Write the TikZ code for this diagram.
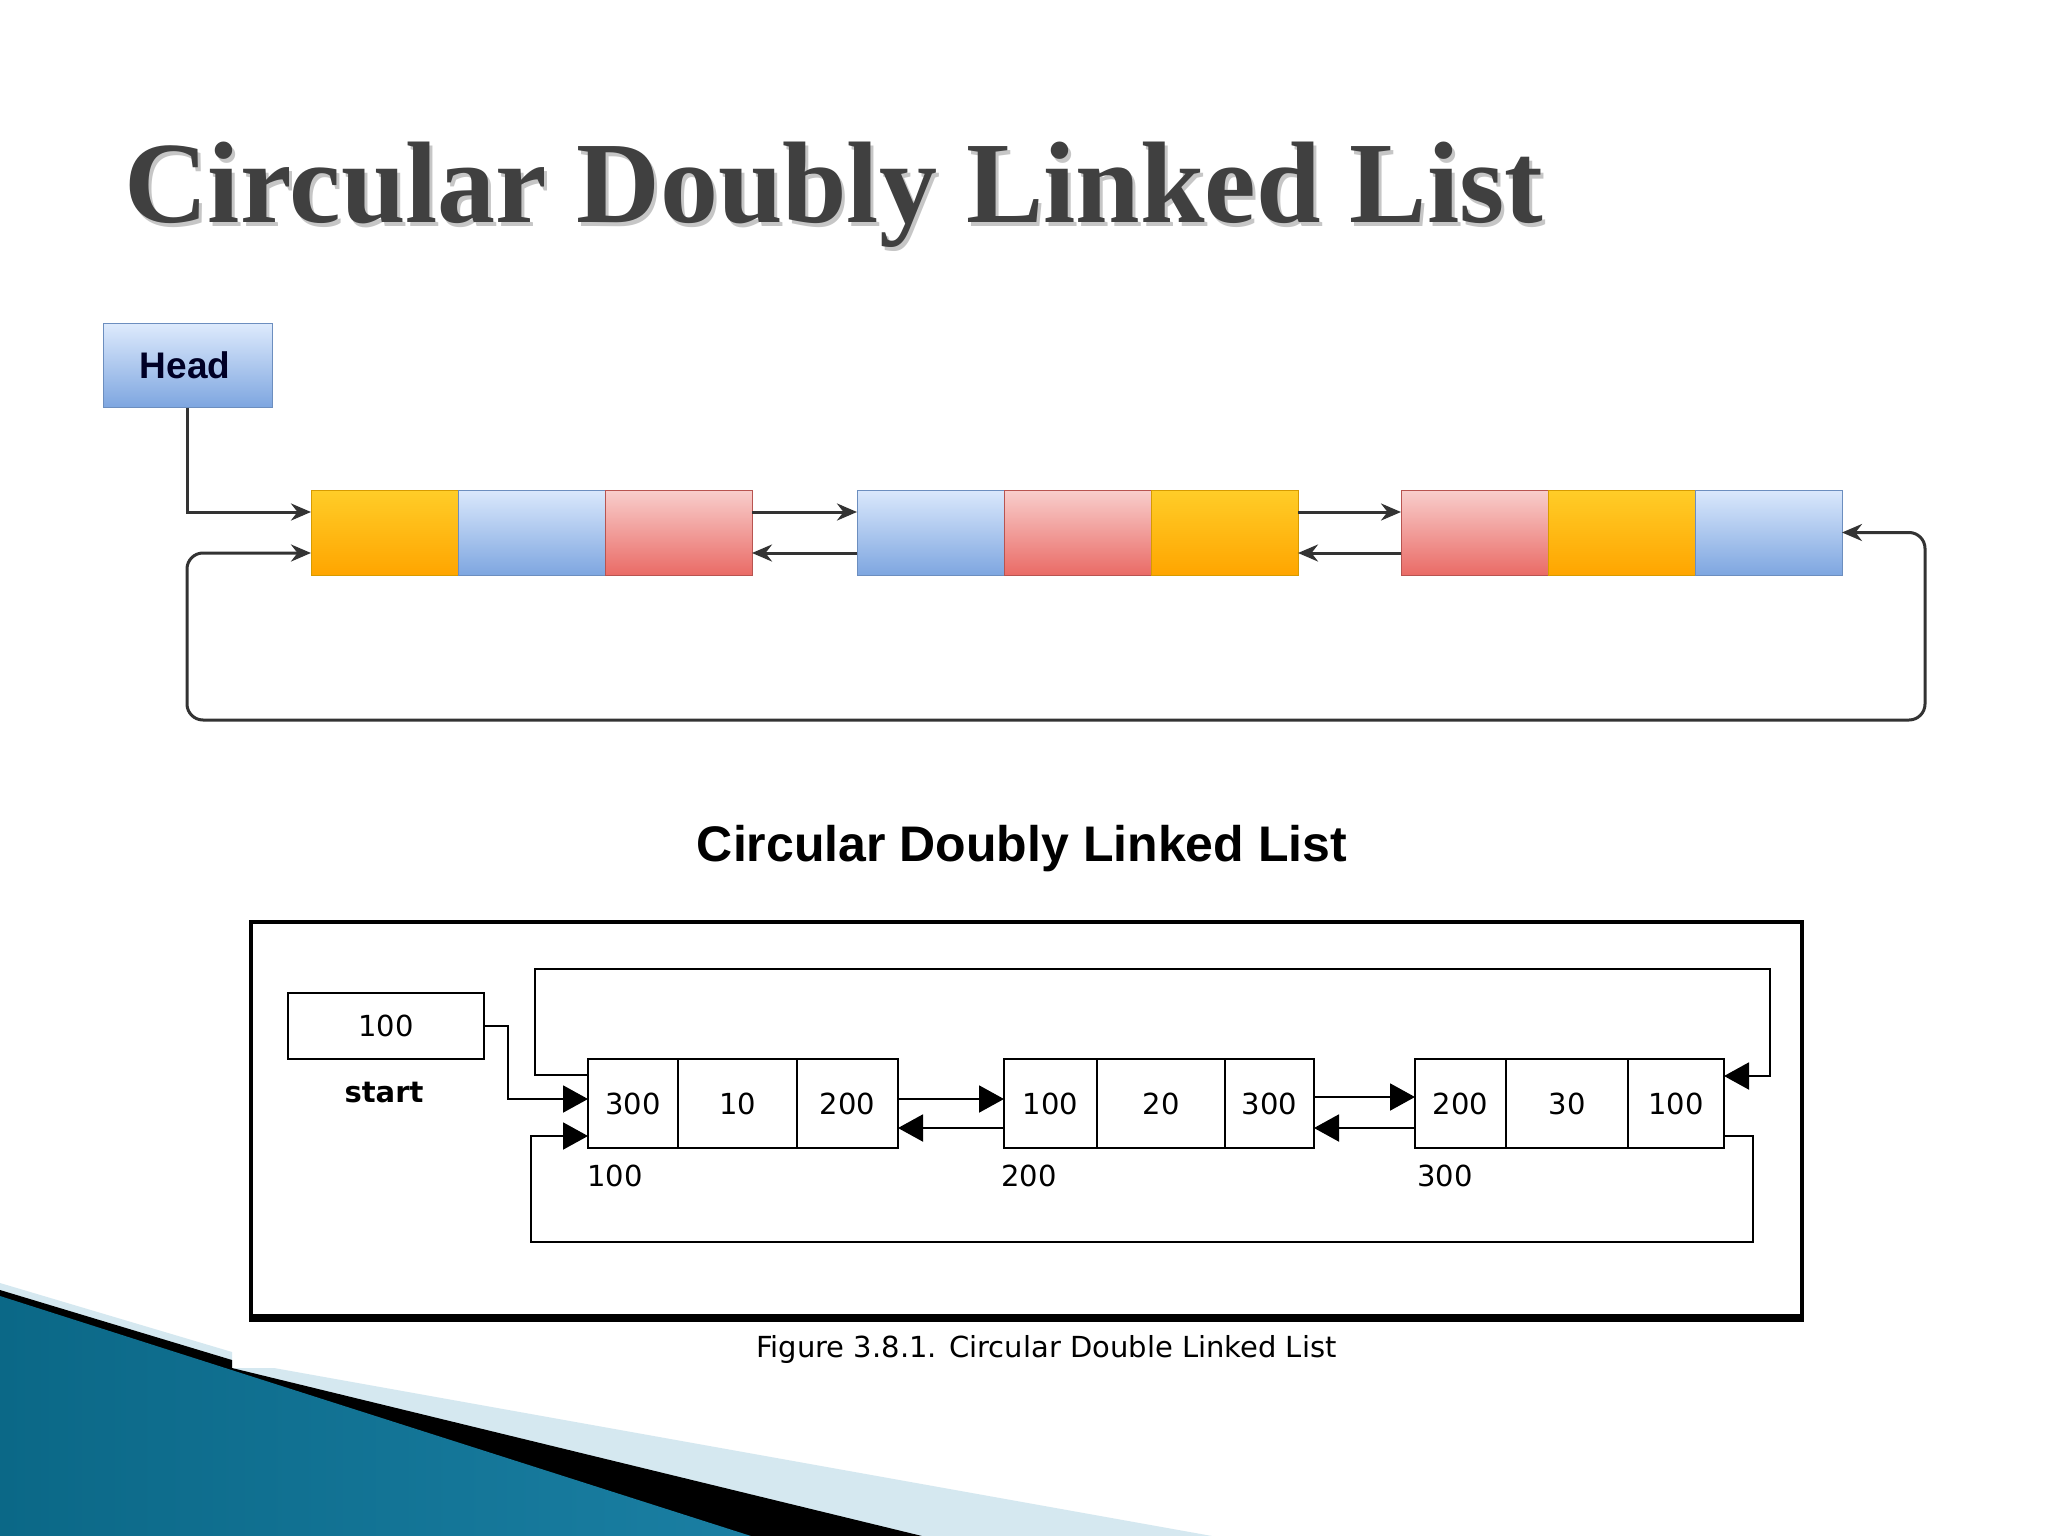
\documentclass[tikz,border=0pt]{standalone}
\usepackage{fontspec}
\setmainfont{Liberation Serif}
\newfontfamily\headfont{Liberation Sans}
\newfontfamily\figfont{DejaVu Sans}
\usetikzlibrary{arrows.meta,positioning}

\definecolor{titlegray}{HTML}{404040}
\definecolor{linkgray}{HTML}{333333}
\definecolor{orangetop}{HTML}{FFCD28}
\definecolor{orangebot}{HTML}{FFA500}
\definecolor{orangeline}{HTML}{D79B00}
\definecolor{bluetop}{HTML}{DAE8FC}
\definecolor{bluebot}{HTML}{7EA6E0}
\definecolor{blueline}{HTML}{6C8EBF}
\definecolor{redtop}{HTML}{F8CECC}
\definecolor{redbot}{HTML}{EA6B66}
\definecolor{redline}{HTML}{B85450}
\definecolor{tealdark}{HTML}{0B6887}
\definecolor{teallight}{HTML}{4CB0D3}
\definecolor{tealedge}{HTML}{1A7FA3}
\definecolor{lightband}{HTML}{D5E8F0}

\tikzset{
  cell/.style={line width=1pt, minimum width=147pt, minimum height=85pt, inner sep=0pt,
    outer sep=0pt, anchor=west},
  orangecell/.style={cell, draw=orangeline, top color=orangetop, bottom color=orangebot},
  bluecell/.style={cell, draw=blueline, top color=bluetop, bottom color=bluebot},
  redcell/.style={cell, draw=redline, top color=redtop, bottom color=redbot},
  link/.style={draw=linkgray, line width=3pt, -{Stealth[length=20pt,width=17pt]}},
  fcell/.style={draw, line width=2pt, minimum height=89pt, inner sep=0pt, outer sep=0pt,
    anchor=west, font=\figfont\fontsize{29}{30}\selectfont},
  flabel/.style={font=\figfont\fontsize{29}{30}\selectfont},
  flink/.style={line width=2pt, -{Triangle[length=25pt,width=27pt]}},
}

\begin{document}
\begin{tikzpicture}[x=1pt,y=-1pt]
\useasboundingbox (0,0) rectangle (2048,1536);
\fill[white] (0,0) rectangle (2048,1536);
% Drawing the slide title
\node[anchor=base west, inner sep=0pt, text=gray!45,
  font=\fontsize{116}{120}\selectfont\bfseries] (titleshadow) at (127,226) {Circular Doubly Linked List};
\node[anchor=base west, inner sep=0pt, text=titlegray,
  font=\fontsize{116}{120}\selectfont\bfseries] (title) at (124,222) {Circular Doubly Linked List};
% Upper diagram: head and three nodes
\node[draw=blueline, line width=1pt, top color=bluetop!90!white, bottom color=bluebot,
  minimum width=169pt, minimum height=84pt, inner sep=0pt, text=black!85!blue,
  font=\headfont\fontsize{37}{40}\selectfont\bfseries] (head) at (187.5,365) {\hspace*{-5pt}Head};
\node[orangecell] (a1) at (311,532.5) {};
\node[bluecell, right=0pt of a1] (a2) {};
\node[redcell, right=0pt of a2] (a3) {};
\node[bluecell] (b1) at (857,532.5) {};
\node[redcell, right=0pt of b1] (b2) {};
\node[orangecell, right=0pt of b2] (b3) {};
\node[redcell] (c1) at (1401,532.5) {};
\node[orangecell, right=0pt of c1] (c2) {};
\node[bluecell, right=0pt of c2] (c3) {};
% Upper diagram: links
\draw[link] (head.south) |- ([yshift=20.5pt]a1.west);
\draw[link] ([yshift=20.5pt]a3.east) -- ([yshift=20.5pt]b1.west);
\draw[link] ([yshift=-20.5pt]b1.west) -- ([yshift=-20.5pt]a3.east);
\draw[link] ([yshift=20.5pt]b3.east) -- ([yshift=20.5pt]c1.west);
\draw[link] ([yshift=-20.5pt]c1.west) -- ([yshift=-20.5pt]b3.east);
\coordinate (loopL) at (187,720);
\coordinate (loopR) at (1925,720);
\draw[link, {Stealth[length=20pt,width=17pt]}-{Stealth[length=20pt,width=17pt]}, rounded corners=16pt]
  ([yshift=-20.5pt]a1.west) -| (loopL) -- (loopR) |- (c3.east);
% Caption of the upper diagram
\node[anchor=base, inner sep=0pt, font=\headfont\fontsize{50}{54}\selectfont\bfseries] (subtitle) at (1022,861) {Circular Doubly Linked List};
% Lower figure: frame
\draw[line width=4pt] (251,922) rectangle (1802,1316);
\draw[line width=6pt] (249,1319) -- (1804,1319);
% Lower figure: start pointer
\node[fcell, anchor=center, minimum width=196pt, minimum height=66pt] (start) at (386,1026) {100};
\node[flabel, font=\figfont\fontsize{29}{30}\selectfont\bfseries] (startlbl) at (384,1093) {start};
% Lower figure: nodes
\node[fcell, minimum width=90pt] (n1a) at (588,1103.5) {300};
\node[fcell, minimum width=119pt, right=0pt of n1a] (n1b) {10};
\node[fcell, minimum width=101pt, right=0pt of n1b] (n1c) {200};
\node[fcell, minimum width=93pt] (n2a) at (1004,1103.5) {100};
\node[fcell, minimum width=128pt, right=0pt of n2a] (n2b) {20};
\node[fcell, minimum width=89pt, right=0pt of n2b] (n2c) {300};
\node[fcell, minimum width=91pt] (n3a) at (1415,1103.5) {200};
\node[fcell, minimum width=122pt, right=0pt of n3a] (n3b) {30};
\node[fcell, minimum width=96pt, right=0pt of n3b] (n3c) {100};
\node[flabel] (addr1) at (615,1176) {100};
\node[flabel] (addr2) at (1029,1176) {200};
\node[flabel] (addr3) at (1445,1176) {300};
% Lower figure: links
\draw[flink] (start.east) -- ++(24,0) |- ([yshift=4.5pt]n1a.west);
\draw[flink] ([yshift=4.5pt]n1c.east) -- ([yshift=4.5pt]n2a.west);
\draw[flink] ([yshift=-24.5pt]n2a.west) -- ([yshift=-24.5pt]n1c.east);
\draw[flink] ([yshift=6.5pt]n2c.east) -- ([yshift=6.5pt]n3a.west);
\draw[flink] ([yshift=-24.5pt]n3a.west) -- ([yshift=-24.5pt]n2c.east);
\coordinate (topL) at (535,969);
\coordinate (topR) at (1770,969);
\draw[flink] ([yshift=28.5pt]n1a.west) -| (topL) -- (topR) |- ([yshift=27.5pt]n3c.east);
\coordinate (botR) at (1753,1242);
\coordinate (botL) at (531,1242);
\draw[flink] ([yshift=-32.5pt]n3c.east) -| (botR) -- (botL) |- ([yshift=-32.5pt]n1a.west);
\node[anchor=base west, inner sep=0pt, font=\figfont\fontsize{29}{30}\selectfont] (caption) at (756,1357) {Figure 3.8.1. Circular Double Linked List};
% Slide decoration, bottom left
\fill[lightband] (0,1283) -- (232,1352) -- (232,1368) -- (274,1368) -- (1212,1536) -- (0,1536) -- cycle;
\fill[black] (0,1290) -- (232,1360) -- (232,1368) -- (922,1536) -- (0,1536) -- cycle;
\shade[left color=tealdark, middle color=teallight, right color=tealedge] (0,1296) -- (751,1536) -- (0,1536) -- cycle;
\end{tikzpicture}
\end{document}
